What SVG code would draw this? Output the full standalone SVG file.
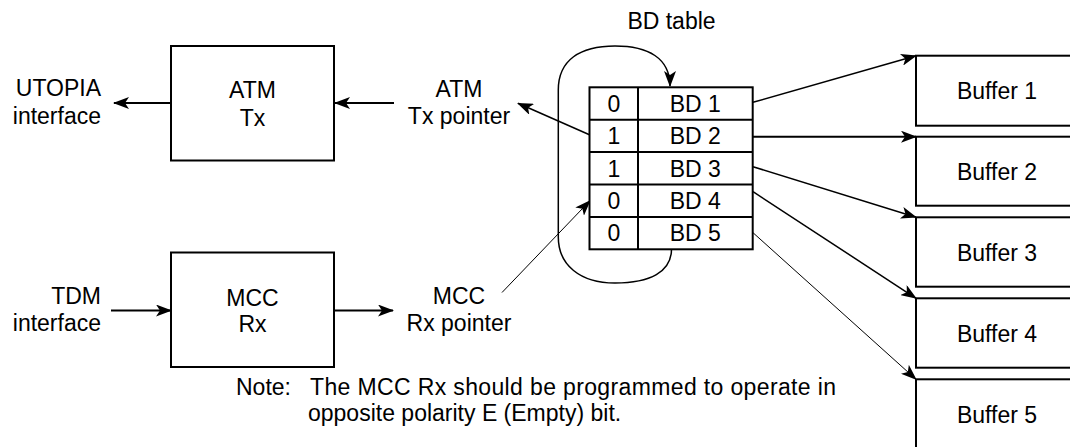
<svg xmlns="http://www.w3.org/2000/svg" width="1070" height="447" viewBox="0 0 1070 447">
<defs>
<marker id="ah" markerUnits="userSpaceOnUse" markerWidth="16" markerHeight="12" viewBox="0 0 16 12" refX="15" refY="6" orient="auto">
<path d="M0,0 L16,6 L0,12 L4,6 z" fill="#000"/>
</marker>
<style>
text{font-family:"Liberation Sans",Arial,sans-serif;font-size:23px;fill:#000}
.c{text-anchor:middle}
.r{text-anchor:end}
.box{fill:#fff;stroke:#000;stroke-width:2}
.ln{fill:none;stroke:#000;stroke-width:2}
.a{fill:none;stroke:#000;marker-end:url(#ah)}
</style>
</defs>
<rect width="1070" height="447" fill="#fff"/>

<g id="connectors">
<path class="a" stroke-width="2" d="M171,103 L114,103"/>
<path class="a" stroke-width="2" d="M394,103 L335,103"/>
<path class="a" stroke-width="2" d="M111,310.5 L171,310.5"/>
<path class="a" stroke-width="2" d="M334,310.5 L393,310.5"/>
<path class="a" stroke-width="1.5" d="M590,135 L518,103.3"/>
<path class="a" stroke-width="1" d="M502,292.5 L590,200.7"/>
<path class="a" stroke-width="1.5" d="M671.5,249 C671.5,272 650,283 615,283 C580,283 558.3,265 558.3,237 L558.3,90 C558.3,60 580,46 615,46 C648,46 670,58 670,86"/>
<path class="a" stroke-width="1.5" d="M753,102.3 L916,55.7"/>
<path class="a" stroke-width="2" d="M753,136.7 L916,136.7"/>
<path class="a" stroke-width="1.5" d="M753,166.7 L916,217.3"/>
<path class="a" stroke-width="1.5" d="M753,191.7 L916,298.3"/>
<path class="a" stroke-width="1" d="M753,232.7 L916,379.3"/>
</g>

<g id="utopia">
<text class="r" x="101" y="96">UTOPIA</text>
<text class="r" x="101" y="123.5">interface</text>
</g>
<g id="atm-tx">
<rect class="box" x="171" y="46" width="163" height="114.5"/>
<text class="c" x="252.5" y="98">ATM</text>
<text class="c" x="252.5" y="125.5">Tx</text>
</g>
<g id="atm-tx-pointer">
<text class="c" x="459" y="96.5">ATM</text>
<text class="c" x="459" y="124">Tx pointer</text>
</g>
<g id="tdm">
<text class="r" x="101" y="304">TDM</text>
<text class="r" x="101" y="331">interface</text>
</g>
<g id="mcc-rx">
<rect class="box" x="171" y="252.5" width="163" height="114.5"/>
<text class="c" x="252.5" y="305.5">MCC</text>
<text class="c" x="252.5" y="332">Rx</text>
</g>
<g id="mcc-rx-pointer">
<text class="c" x="459" y="304">MCC</text>
<text class="c" x="459" y="331">Rx pointer</text>
</g>

<g id="bd-table">
<text class="c" x="671.5" y="28.5">BD table</text>
<rect class="box" x="589.5" y="87.3" width="163.2" height="162"/>
<line class="ln" x1="638" y1="87.3" x2="638" y2="249.3"/>
<line class="ln" x1="589.5" y1="119.7" x2="752.7" y2="119.7"/>
<line class="ln" x1="589.5" y1="152.1" x2="752.7" y2="152.1"/>
<line class="ln" x1="589.5" y1="184.5" x2="752.7" y2="184.5"/>
<line class="ln" x1="589.5" y1="216.9" x2="752.7" y2="216.9" stroke-width="3"/>
<text class="c" x="614" y="111.7">0</text>
<text class="c" x="695.3" y="111.7">BD 1</text>
<text class="c" x="614" y="144.1">1</text>
<text class="c" x="695.3" y="144.1">BD 2</text>
<text class="c" x="614" y="176.5">1</text>
<text class="c" x="695.3" y="176.5">BD 3</text>
<text class="c" x="614" y="208.9">0</text>
<text class="c" x="695.3" y="208.9">BD 4</text>
<text class="c" x="614" y="241.3">0</text>
<text class="c" x="695.3" y="241.3">BD 5</text>
</g>

<g id="buffer1">
<rect class="box" x="916" y="55.7" width="170" height="70"/>
<text class="c" x="997" y="99">Buffer 1</text>
</g>
<g id="buffer2">
<rect class="box" x="916" y="136.7" width="170" height="69"/>
<text class="c" x="997" y="180">Buffer 2</text>
</g>
<g id="buffer3">
<rect class="box" x="916" y="217.3" width="170" height="69.4"/>
<text class="c" x="997" y="260.5">Buffer 3</text>
</g>
<g id="buffer4">
<rect class="box" x="916" y="298.3" width="170" height="69.4"/>
<text class="c" x="997" y="341.5">Buffer 4</text>
</g>
<g id="buffer5">
<rect class="box" x="916" y="379.3" width="170" height="80"/>
<text class="c" x="997" y="422.5">Buffer 5</text>
</g>

<g id="note">
<text x="236" y="395">Note:</text>
<text x="310" y="395" textLength="526" lengthAdjust="spacing">The MCC Rx should be programmed to operate in</text>
<text x="308" y="421">opposite polarity E (Empty) bit.</text>
</g>
</svg>
